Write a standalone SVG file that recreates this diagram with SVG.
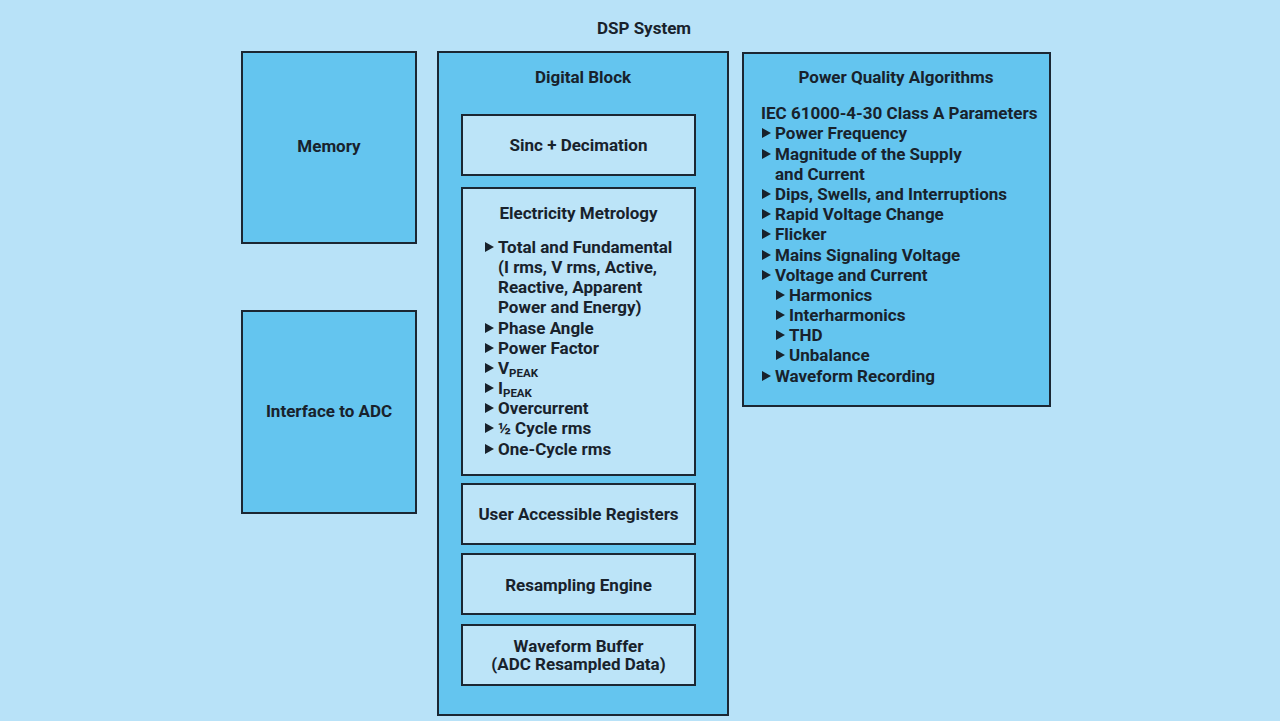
<svg xmlns="http://www.w3.org/2000/svg" width="1280" height="721" viewBox="0 0 1280 721">
<style>
.bg{fill:#b8e2f8}
.mid{fill:#64c5ef;stroke:#1b2733;stroke-width:2}
.light{fill:#bce4f8;stroke:#1b2733;stroke-width:2}
text{font-family:Roboto,"Liberation Sans",sans-serif;font-weight:bold;font-size:17px;fill:#18222c}
.c{text-anchor:middle}
.sub{font-size:11.5px}
.tri{fill:#18222c}
</style>
<defs>
<path id="tri" class="tri" d="M0,-5 L9,0 L0,5 Z"/>
</defs>
<rect class="bg" x="0" y="0" width="1280" height="721"/>
<text class="c" x="644" y="34">DSP System</text>
<g id="memory">
<rect class="mid" x="242" y="52" width="174" height="191"/>
<text class="c" x="329" y="152">Memory</text>
</g>
<g id="interface-adc">
<rect class="mid" x="242" y="311" width="174" height="202"/>
<text class="c" x="329" y="417">Interface to ADC</text>
</g>
<g id="digital-block">
<rect class="mid" x="438" y="52" width="290" height="663"/>
<text class="c" x="583" y="83">Digital Block</text>
</g>
<g id="sinc">
<rect class="light" x="462" y="115" width="233" height="60"/>
<text class="c" x="578.5" y="151">Sinc + Decimation</text>
</g>
<g id="metrology">
<rect class="light" x="462" y="188" width="233" height="287"/>
<text class="c" x="578.5" y="219">Electricity Metrology</text>
<g class="items">
<use href="#tri" x="485" y="247"/><text x="498" y="253">Total and Fundamental</text>
<text x="498" y="273">(I rms, V rms, Active,</text>
<text x="498" y="293">Reactive, Apparent</text>
<text x="498" y="313">Power and Energy)</text>
<use href="#tri" x="485" y="328"/><text x="498" y="334">Phase Angle</text>
<use href="#tri" x="485" y="348"/><text x="498" y="354">Power Factor</text>
<use href="#tri" x="485" y="368"/><text x="498" y="374">V<tspan class="sub" dy="3">PEAK</tspan></text>
<use href="#tri" x="485" y="388"/><text x="498" y="394">I<tspan class="sub" dy="3">PEAK</tspan></text>
<use href="#tri" x="485" y="408"/><text x="498" y="414">Overcurrent</text>
<use href="#tri" x="485" y="428"/><text x="498" y="434">½ Cycle rms</text>
<use href="#tri" x="485" y="449"/><text x="498" y="455">One-Cycle rms</text>
</g>
</g>
<g id="registers">
<rect class="light" x="462" y="484" width="233" height="60"/>
<text class="c" x="578.5" y="520">User Accessible Registers</text>
</g>
<g id="resampling">
<rect class="light" x="462" y="554" width="233" height="60"/>
<text class="c" x="578.5" y="591">Resampling Engine</text>
</g>
<g id="waveform-buffer">
<rect class="light" x="462" y="625" width="233" height="60"/>
<text class="c" x="578.5" y="652">Waveform Buffer</text>
<text class="c" x="578.5" y="670">(ADC Resampled Data)</text>
</g>
<g id="power-quality">
<rect class="mid" x="743" y="53" width="307" height="353"/>
<text class="c" x="896" y="83">Power Quality Algorithms</text>
<text x="761" y="119">IEC 61000-4-30 Class A Parameters</text>
<use href="#tri" x="762" y="133"/><text x="775" y="139">Power Frequency</text>
<use href="#tri" x="762" y="154"/><text x="775" y="160">Magnitude of the Supply</text>
<text x="775" y="180">and Current</text>
<use href="#tri" x="762" y="194"/><text x="775" y="200">Dips, Swells, and Interruptions</text>
<use href="#tri" x="762" y="214"/><text x="775" y="220">Rapid Voltage Change</text>
<use href="#tri" x="762" y="234"/><text x="775" y="240">Flicker</text>
<use href="#tri" x="762" y="255"/><text x="775" y="261">Mains Signaling Voltage</text>
<use href="#tri" x="762" y="275"/><text x="775" y="281">Voltage and Current</text>
<use href="#tri" x="776" y="295"/><text x="789" y="301">Harmonics</text>
<use href="#tri" x="776" y="315"/><text x="789" y="321">Interharmonics</text>
<use href="#tri" x="776" y="335"/><text x="789" y="341">THD</text>
<use href="#tri" x="776" y="355"/><text x="789" y="361">Unbalance</text>
<use href="#tri" x="762" y="376"/><text x="775" y="382">Waveform Recording</text>
</g>
<g id="connectors"></g>
</svg>
